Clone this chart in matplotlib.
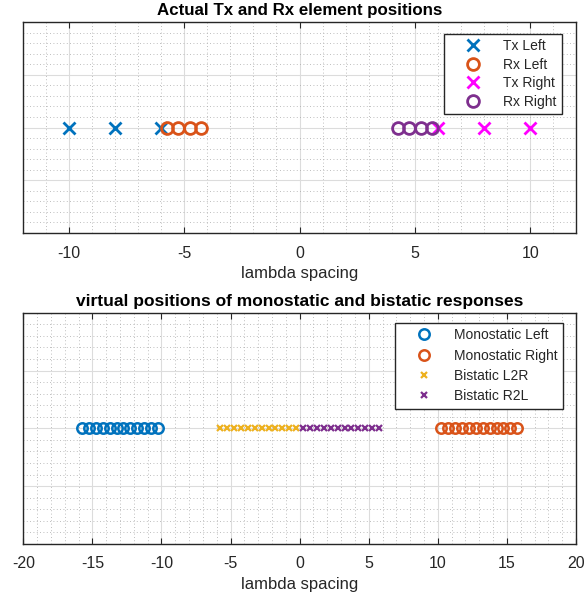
import matplotlib
matplotlib.use("Agg")
import matplotlib.pyplot as plt
from matplotlib.ticker import MultipleLocator

plt.rcParams['font.family'] = ['Liberation Sans', 'DejaVu Sans']
plt.rcParams['axes.unicode_minus'] = False

# element positions (lambda units)
tx_left = [-10, -8, -6]
rx_left = [-5.75, -5.25, -4.75, -4.25]
tx_right = [6, 8, 10]
rx_right = [4.25, 4.75, 5.25, 5.75]

# virtual positions
mono_left = [-15.75, -15.25, -14.75, -14.25, -13.75, -13.25,
             -12.75, -12.25, -11.75, -11.25, -10.75, -10.25]
mono_right = [10.25, 10.75, 11.25, 11.75, 12.25, 12.75,
              13.25, 13.75, 14.25, 14.75, 15.25, 15.75]
bistatic_l2r = [-5.75, -5.25, -4.75, -4.25, -3.75, -3.25,
                -2.75, -2.25, -1.75, -1.25, -0.75, -0.25]
bistatic_r2l = [0.25, 0.75, 1.25, 1.75, 2.25, 2.75,
                3.25, 3.75, 4.25, 4.75, 5.25, 5.75]

top_labels = ['Tx Left', 'Rx Left', 'Tx Right', 'Rx Right']
bottom_labels = ['Monostatic Left', 'Monostatic Right', 'Bistatic L2R', 'Bistatic R2L']

blue = '#0072BD'
orange = '#D95319'
yellow = '#EDB120'
purple = '#7E2F8E'
magenta = '#FF00FF'
txt = '#262626'

W, H = 588, 601
fig = plt.figure(figsize=(W / 100, H / 100), dpi=100)
ax1 = fig.add_axes([22.7 / W, 1 - 233 / H, 553.6 / W, 211 / H])
ax2 = fig.add_axes([23.3 / W, 1 - 544 / H, 552.7 / W, 231.3 / H])


def zeros(v):
    return [0] * len(v)


def style(ax, xlim, xmaj):
    ax.set_xlim(*xlim)
    ax.set_ylim(-1, 1)
    ax.xaxis.set_major_locator(MultipleLocator(xmaj))
    ax.xaxis.set_minor_locator(MultipleLocator(1))
    ax.yaxis.set_major_locator(MultipleLocator(0.5))
    ax.yaxis.set_minor_locator(MultipleLocator(0.1))
    ax.grid(True, which='major', color='#dcdcdc', linewidth=0.8, linestyle='-')
    ax.grid(True, which='minor', color='#a8a8a8', linewidth=0.6, linestyle=(0, (1, 3)))
    ax.set_axisbelow(True)
    ax.tick_params(axis='x', which='major', direction='in', top=True, length=4,
                   width=0.8, color=txt, labelcolor=txt, labelsize=11.5, pad=9)
    ax.tick_params(axis='x', which='minor', length=0)
    ax.tick_params(axis='y', which='both', length=0, labelleft=False)
    for s in ax.spines.values():
        s.set_color(txt)
        s.set_linewidth(1.0)
    ax.set_xlabel('lambda spacing', fontsize=12, color=txt, labelpad=4)


ax1.plot(tx_left, zeros(tx_left), 'x', color=blue, ms=8, mew=2, label=top_labels[0])
ax1.plot(rx_left, zeros(rx_left), 'o', color=orange, mfc='none', ms=8.5, mew=2, label=top_labels[1])
ax1.plot(tx_right, zeros(tx_right), 'x', color=magenta, ms=8, mew=2, label=top_labels[2])
ax1.plot(rx_right, zeros(rx_right), 'o', color=purple, mfc='none', ms=8.5, mew=2, label=top_labels[3])
style(ax1, (-12, 12), 5)
ax1.set_title('Actual Tx and Rx element positions', fontsize=12.2, fontweight='bold', color='black', pad=5)

ax2.plot(mono_left, zeros(mono_left), 'o', color=blue, mfc='none', ms=7.5, mew=1.8, label=bottom_labels[0])
ax2.plot(mono_right, zeros(mono_right), 'o', color=orange, mfc='none', ms=7.5, mew=1.8, label=bottom_labels[1])
ax2.plot(bistatic_l2r, zeros(bistatic_l2r), 'x', color=yellow, ms=5, mew=1.6, label=bottom_labels[2])
ax2.plot(bistatic_r2l, zeros(bistatic_r2l), 'x', color=purple, ms=5, mew=1.6, label=bottom_labels[3])
style(ax2, (-20, 20), 5)
ax2.set_title('virtual positions of monostatic and bistatic responses', fontsize=12.5,
              fontweight='bold', color='black', pad=5)

for ax, anchor, sp in ((ax1, (562 / W, 1 - 33.7 / H), 0.32), (ax2, (563 / W, 1 - 322.7 / H), 0.45)):
    leg = ax.legend(loc='upper right', bbox_to_anchor=anchor, bbox_transform=fig.transFigure,
                    fontsize=10, frameon=True, fancybox=False, shadow=False, framealpha=1,
                    edgecolor=txt, handlelength=3.4, handletextpad=0.45, borderpad=0.4,
                    labelspacing=sp, borderaxespad=0)
    leg.get_frame().set_linewidth(1.0)
    for t in leg.get_texts():
        t.set_color(txt)

fig.savefig('out.png', dpi=100)
